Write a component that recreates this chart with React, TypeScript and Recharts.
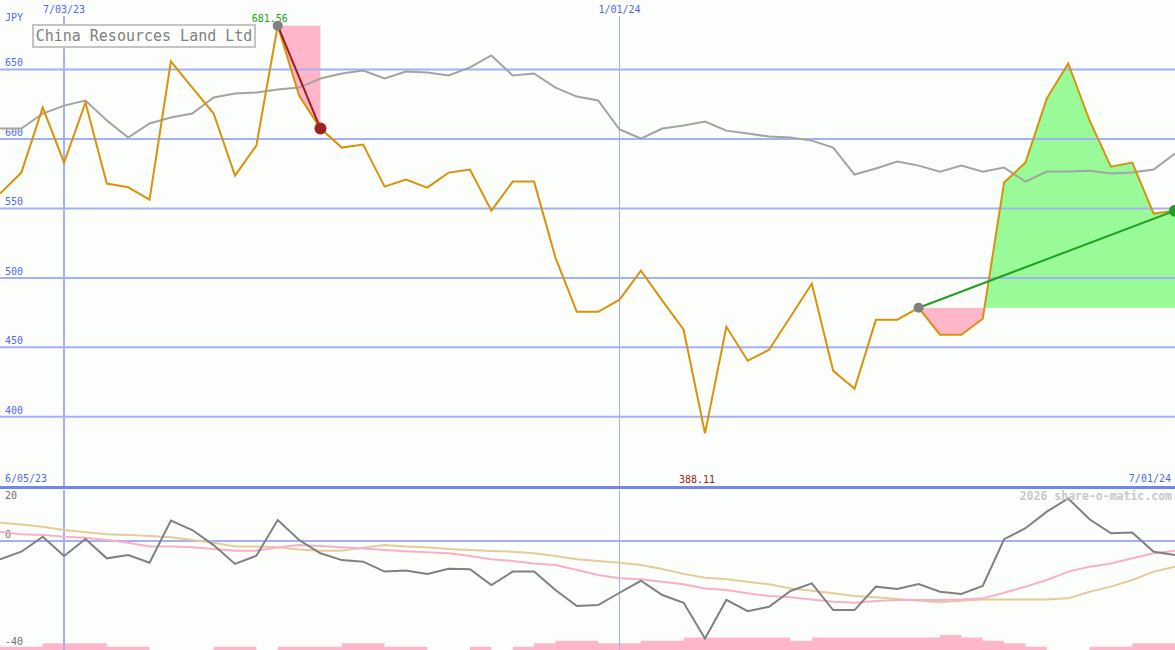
import { ComposedChart, Line, Area, XAxis, YAxis, ReferenceLine, ReferenceDot } from "recharts"

// weekly closes, JPY
const price = [
  560.7, 575.8, 622.6, 583.0, 626.2, 567.9, 565.2, 556.3, 655.8, 637.0,
  618.3, 573.6, 595.2, 681.56, 631.3, 607.5, 593.8, 596.0, 565.7, 570.8,
  565.0, 575.8, 578.0, 548.4, 569.3, 569.3, 514.6, 475.6, 475.6, 484.3,
  505.2, 483.6, 462.7, 388.11, 464.8, 440.4, 448.3, 472.0, 495.8, 433.1,
  420.2, 469.9, 469.9, 478.5, 459.1, 459.1, 470.6, 568.6, 583.0, 629.1,
  654.3, 613.3, 580.1, 583.0, 546.3, 548.4,
]

// relative-strength comparison line (grey)
const bench = [
  607.5, 607.5, 618.3, 624.0, 627.7, 613.3, 601.0, 611.1, 615.4, 618.3,
  629.8, 632.7, 633.4, 635.6, 637.0, 643.5, 647.1, 649.3, 643.5, 648.6,
  647.8, 645.7, 651.5, 660.1, 645.7, 647.1, 637.0, 630.5, 627.7, 606.8,
  600.3, 607.5, 609.7, 612.5, 606.0, 603.9, 601.7, 601.0, 598.8, 593.8,
  574.4, 578.7, 583.7, 580.8, 576.5, 580.8, 576.5, 579.4, 569.3, 576.5,
  576.5, 577.2, 575.1, 575.8, 578.0, 589.5,
]

// lower panel oscillator + its two averages
const momentum = [
  -7.2, -4.2, 1.7, -5.9, 0.8, -6.8, -5.5, -8.5, 8.0, 4.3,
  -1.6, -9.0, -5.8, 8.2, 0.4, -4.8, -7.5, -8.1, -12.0, -11.6,
  -12.9, -10.9, -11.1, -17.3, -12.0, -12.0, -19.2, -25.5, -25.1, -20.3,
  -15.6, -21.2, -24.2, -38.2, -23.1, -27.5, -25.8, -19.6, -16.6, -27.1,
  -27.1, -17.9, -18.8, -16.9, -19.9, -20.8, -17.6, 0.7, 5.0, 11.5,
  16.7, 8.5, 3.0, 3.3, -4.2, -5.5,
]
const fastAvg = [
  3.6, 2.6, 2.4, 1.7, 1.3, 0.4, -0.7, -2.2, -2.2, -2.5,
  -3.1, -3.8, -3.8, -2.5, -1.6, -2.0, -2.5, -2.9, -3.5, -4.0,
  -4.4, -4.8, -5.9, -7.2, -7.8, -8.8, -9.4, -11.4, -13.3, -14.6,
  -15.0, -16.0, -17.0, -18.6, -19.2, -20.5, -21.6, -22.1, -22.9, -23.8,
  -24.2, -23.5, -23.1, -23.1, -23.1, -22.9, -22.5, -20.3, -17.9, -15.3,
  -12.0, -10.1, -8.8, -6.8, -4.8, -3.8,
]
const slowAvg = [
  7.2, 6.5, 5.6, 4.3, 3.4, 2.6, 2.4, 2.0, 1.5, 0.4,
  -0.7, -2.2, -2.2, -2.5, -3.3, -3.8, -3.8, -2.6, -1.6, -2.2,
  -2.5, -3.1, -3.5, -3.9, -4.2, -4.8, -5.9, -7.2, -7.8, -8.5,
  -9.4, -11.0, -12.9, -14.4, -15.0, -16.0, -17.0, -18.6, -19.5, -20.5,
  -21.6, -22.1, -22.7, -23.4, -24.0, -23.4, -22.9, -22.9, -22.9, -22.9,
  -22.5, -19.9, -17.9, -15.3, -12.0, -10.1,
]

// volume (millions)
const volume = [
  11, 11, 22, 22, 22, 11, 11, 0, 0, 0,
  11, 11, 0, 11, 11, 11, 22, 22, 11, 11,
  0, 0, 11, 0, 11, 22, 31, 31, 22, 22,
  31, 31, 41, 41, 41, 41, 41, 31, 41, 41,
  41, 41, 41, 41, 50, 41, 31, 22, 11, 0,
  0, 11, 11, 22, 22, 22,
]

const dateTicks = [3, 29]
const dateLabels = ["7/03/23", "1/01/24"]
const rangeLabels = ["6/05/23", "7/01/24"]
const priceTicks = [400, 450, 500, 550, 600, 650]
const oscLabels = ["20", "0", "-40"]

// the two marked trades: peak -> drop, and entry -> exit
const trade1 = { from: 13, to: 15 }
const trade2 = { from: 43, to: 55 }
const lowIdx = 33

const W = 1175
const TOP_H = 487
const PLOT_TOP = 16
const P_MIN = 349.5
const P_MAX = 688.5
const OSC_MIN = -42.75
const OSC_MAX = 20
const VOL_MAX = 530

const BG = "#fbfefb"
const GRID = "#a4b0f4"
const SEP = "#7486ec"
const BLUE = "#5466ee"
const ORANGE = "#d8920c"
const PINK = "#ffb6c8"
const GREEN = "#98fb98"
const MONO = "'DejaVu Sans Mono', monospace"

const inTrade = (i: number, t: { from: number; to: number }) => i >= t.from && i <= t.to

const rows = price.map((p, i) => ({
  i,
  price: p,
  bench: bench[i],
  seg1: inTrade(i, trade1) ? p : undefined,
  seg2: inTrade(i, trade2) ? p : undefined,
  tr1: i === trade1.from || i === trade1.to ? p : undefined,
  tr2: i === trade2.from || i === trade2.to ? p : undefined,
  mom: momentum[i],
  fast: fastAvg[i],
  slow: slowAvg[i],
  vol: volume[i],
}))

const entry2 = price[trade2.from]
const splitY = PLOT_TOP + ((P_MAX - entry2) / (P_MAX - P_MIN)) * (TOP_H - PLOT_TOP)

const tag = (text: string, ox: number, oy: number, color: string, anchor = "start") =>
  (p: any) => {
    const vb = p.viewBox || {}
    return (
      <text x={(vb.x ?? 0) + ox} y={(vb.y ?? 0) + oy} fill={color} fontSize={10}
        fontFamily={MONO} textAnchor={anchor}>{text}</text>
    )
  }

const abs = (left: number, top: number, extra: any = {}) => ({
  position: "absolute" as const, left, top, ...extra,
})

export default function App() {
  return (
    <div style={abs(0, 0, { width: W, height: 650, background: BG, overflow: "hidden", fontFamily: MONO })}>
      <div style={abs(0, 0)}>
        <ComposedChart width={W} height={TOP_H} data={rows} margin={{ top: PLOT_TOP, right: 0, bottom: 0, left: 0 }}>
          <defs>
            <linearGradient id="gainLoss" x1="0" y1="0" x2="0" y2={TOP_H} gradientUnits="userSpaceOnUse">
              <stop offset={splitY / TOP_H} stopColor={GREEN} />
              <stop offset={splitY / TOP_H} stopColor={PINK} />
            </linearGradient>
          </defs>
          <XAxis type="number" dataKey="i" domain={[0, price.length - 1]} hide allowDataOverflow />
          <YAxis type="number" domain={[P_MIN, P_MAX]} hide allowDataOverflow />
          {priceTicks.map((v) => (
            <ReferenceLine key={v} y={v} stroke={GRID} strokeWidth={2} label={tag(String(v), 5, -3, BLUE)} />
          ))}
          {dateTicks.map((d, k) => (
            <ReferenceLine key={d} x={d} stroke={GRID} strokeWidth={k === 0 ? 2 : 1} shapeRendering="crispEdges"
              label={tag(dateLabels[k], 0, -3, BLUE, "middle")} />
          ))}
          <Area dataKey="seg1" baseValue={price[trade1.from]} fill={PINK} fillOpacity={1} stroke="none" isAnimationActive={false} />
          <Area dataKey="seg2" baseValue={entry2} fill="url(#gainLoss)" fillOpacity={1} stroke="none" isAnimationActive={false} />
          <Line dataKey="bench" stroke="#a3a3a3" strokeWidth={2} dot={false} isAnimationActive={false} />
          <Line dataKey="price" stroke={ORANGE} strokeWidth={2} dot={false} isAnimationActive={false} />
          <Line dataKey="tr1" connectNulls stroke="#a01c1c" strokeWidth={2} dot={false} isAnimationActive={false} />
          <Line dataKey="tr2" connectNulls stroke="#20a020" strokeWidth={2} dot={false} isAnimationActive={false} />
          <ReferenceDot x={trade1.from} y={price[trade1.from]} r={0}
            label={tag(price[trade1.from].toFixed(2), -8, -3.5, "#20a020", "middle")} />
          <ReferenceDot x={lowIdx} y={P_MIN} r={0}
            label={tag(price[lowIdx].toFixed(2), -8, -4.5, "#a01c1c", "middle")} />
          <ReferenceDot x={trade1.from} y={price[trade1.from]} r={5} fill="#808080" stroke="none" />
          <ReferenceDot x={trade1.to} y={price[trade1.to]} r={6} fill="#a02020" stroke="none" />
          <ReferenceDot x={trade2.from} y={entry2} r={5} fill="#808080" stroke="none" />
          <ReferenceDot x={trade2.to} y={price[trade2.to]} r={6} fill="#20a020" stroke="none" />
        </ComposedChart>
      </div>

      <div style={abs(0, TOP_H)}>
        <ComposedChart width={W} height={650 - TOP_H} data={rows} margin={{ top: 3, right: 0, bottom: 0, left: 0 }}>
          <XAxis type="number" dataKey="i" domain={[0, price.length - 1]} hide allowDataOverflow />
          <YAxis yAxisId="osc" type="number" domain={[OSC_MIN, OSC_MAX]} hide allowDataOverflow />
          <YAxis yAxisId="vol" type="number" domain={[0, VOL_MAX]} hide allowDataOverflow />
          <ReferenceLine yAxisId="osc" y={0} stroke={GRID} strokeWidth={2} label={tag(oscLabels[1], 5, -2.5, "#707070")} />
          {dateTicks.map((d, k) => (
            <ReferenceLine key={d} yAxisId="osc" x={d} stroke={GRID} strokeWidth={k === 0 ? 2 : 1} shapeRendering="crispEdges" />
          ))}
          <Area yAxisId="vol" type="stepAfter" dataKey="vol" fill={PINK} fillOpacity={1} stroke="none" isAnimationActive={false} />
          <Line yAxisId="osc" dataKey="slow" stroke="#e4cc98" strokeWidth={2} dot={false} isAnimationActive={false} />
          <Line yAxisId="osc" dataKey="fast" stroke="#f8b0c8" strokeWidth={2} dot={false} isAnimationActive={false} />
          <Line yAxisId="osc" dataKey="mom" stroke="#808080" strokeWidth={2} dot={false} isAnimationActive={false} />
        </ComposedChart>
      </div>

      <div style={abs(0, TOP_H - 1, { width: W, height: 3, background: SEP })} />

      <div style={abs(5, 12, { fontSize: 10, color: BLUE, lineHeight: "12px" })}>JPY</div>
      <div style={abs(5, 473, { fontSize: 10, color: BLUE, lineHeight: "12px" })}>{rangeLabels[0]}</div>
      <div style={abs(0, 473, { width: 1171, textAlign: "right", fontSize: 10, color: BLUE, lineHeight: "12px" })}>{rangeLabels[1]}</div>
      <div style={abs(5, 490, { fontSize: 10, color: "#707070", lineHeight: "12px" })}>{oscLabels[0]}</div>
      <div style={abs(5, 636, { fontSize: 10, color: "#707070", lineHeight: "12px" })}>{oscLabels[2]}</div>
      <div style={abs(0, 489, { width: 1172, textAlign: "right", fontSize: 11.5, fontWeight: "bold", color: "#c8c8c8", lineHeight: "14px" })}>
        2026 share-o-matic.com
      </div>

      <div style={abs(32, 24, {
        width: 220, height: 20, border: "2px solid #c4c4c4", background: BG,
        fontSize: 15, color: "#808080", lineHeight: "20px", paddingLeft: 0, textAlign: "center",
      })}>
        China Resources Land Ltd
      </div>
    </div>
  )
}
